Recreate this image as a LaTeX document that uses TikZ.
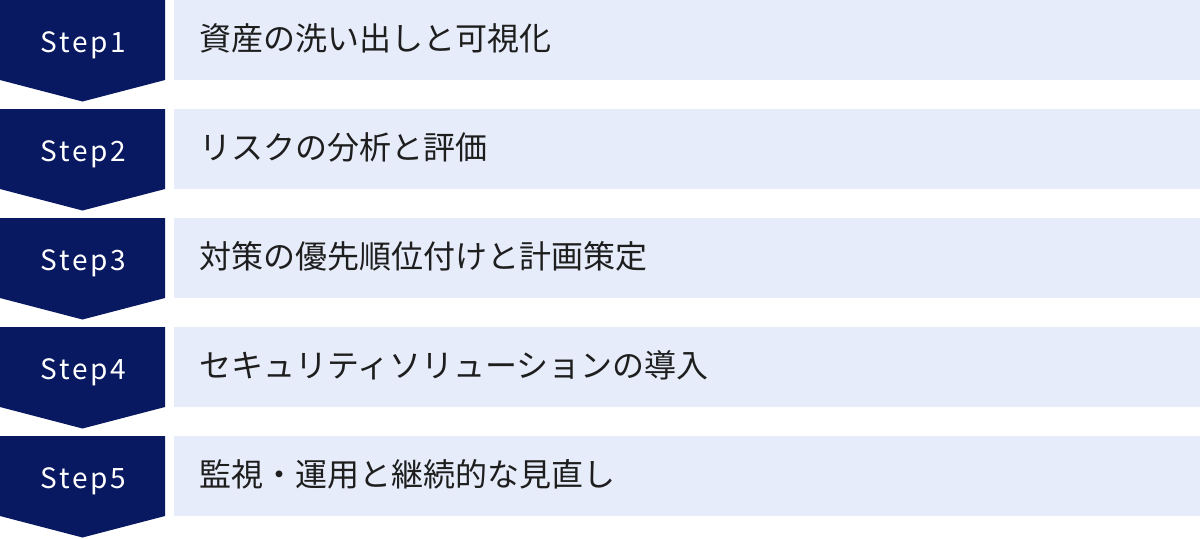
\documentclass[tikz,border=0pt]{standalone}
\usepackage{fontspec}
\setmainfont{Noto Sans CJK JP}
\definecolor{stepnavy}{RGB}{8,25,97}
\definecolor{rowblue}{RGB}{230,236,249}
\definecolor{rowtext}{RGB}{30,30,30}
\begin{document}
\begin{tikzpicture}[x=0.5pt,y=-0.5pt,
	step tab/.style = {fill=stepnavy},
	row box/.style = {fill=rowblue},
	step label/.style = {text=white, inner sep=0pt, anchor=base,
		font=\fontsize{14}{16}\addfontfeatures{LetterSpace=10}\selectfont},
	row label/.style = {text=rowtext, inner sep=0pt, anchor=base west,
		font=\fontsize{16}{19}\selectfont}]
	\useasboundingbox (0,0) rectangle (1200,538);
	
	% step 1
	\fill[step tab] (0,0) -- (165,0) -- (165,80) -- (82.5,101.5) -- (0,80) -- cycle;
	\fill[row box] (174,0) rectangle (1200,80);
	\node[step label] (s1) at (83.5,52) {Step1};
	\node[row label] (t1) at (199,50) {資産の洗い出しと可視化};
	
	% step 2
	\fill[step tab] (0,109) -- (165,109) -- (165,189) -- (82.5,210.5) -- (0,189) -- cycle;
	\fill[row box] (174,109) rectangle (1200,189);
	\node[step label] (s2) at (83.5,161) {Step2};
	\node[row label] (t2) at (199,159) {リスクの分析と評価};
	
	% step 3
	\fill[step tab] (0,218) -- (165,218) -- (165,298) -- (82.5,319.5) -- (0,298) -- cycle;
	\fill[row box] (174,218) rectangle (1200,298);
	\node[step label] (s3) at (83.5,270) {Step3};
	\node[row label] (t3) at (199,268) {対策の優先順位付けと計画策定};
	
	% step 4
	\fill[step tab] (0,327) -- (165,327) -- (165,407) -- (82.5,428.5) -- (0,407) -- cycle;
	\fill[row box] (174,327) rectangle (1200,407);
	\node[step label] (s4) at (83.5,379) {Step4};
	\node[row label] (t4) at (199,377) {セキュリティソリューションの導入};
	
	% step 5
	\fill[step tab] (0,436) -- (165,436) -- (165,516) -- (82.5,537.5) -- (0,516) -- cycle;
	\fill[row box] (174,436) rectangle (1200,516);
	\node[step label] (s5) at (83.5,488) {Step5};
	\node[row label] (t5) at (199,486) {監視・運用と継続的な見直し};
\end{tikzpicture}
\end{document}
